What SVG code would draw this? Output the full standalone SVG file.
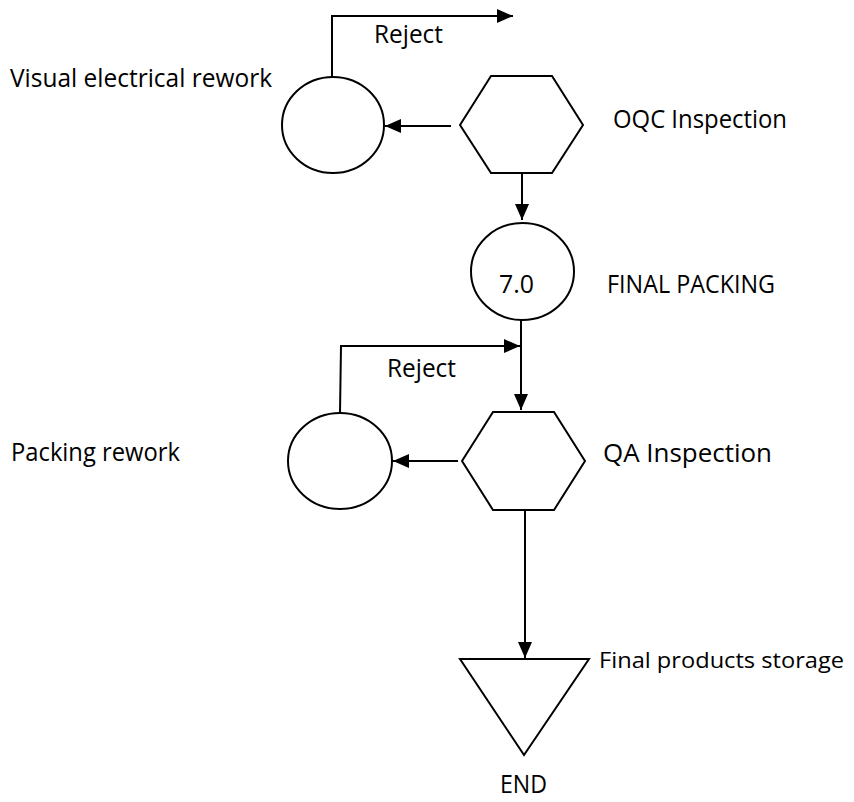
<svg xmlns="http://www.w3.org/2000/svg" width="854" height="802" viewBox="0 0 854 802">
<defs>
<marker id="ah" markerWidth="16" markerHeight="14" refX="16" refY="7" orient="auto" markerUnits="userSpaceOnUse">
<path d="M0,0 L16,7 L0,14 Z" fill="#000"/>
</marker>
<style>
.s{fill:#fff;stroke:#000;stroke-width:2}
.c{fill:none;stroke:#000;stroke-width:2}
text{font-family:"Open Sans","Liberation Sans",sans-serif;font-size:25px;fill:#000}
</style>
</defs>
<rect width="854" height="802" fill="#fff"/>
<g id="connectors">
<path class="c" d="M332,77 V16 H513" marker-end="url(#ah)"/>
<path class="c" d="M451,126 H385" marker-end="url(#ah)"/>
<path class="c" d="M522,174 V220" marker-end="url(#ah)"/>
<path class="c" d="M521,320 V410" marker-end="url(#ah)"/>
<path class="c" d="M340,413 L341,346 H520" marker-end="url(#ah)"/>
<path class="c" d="M458,461 H393" marker-end="url(#ah)"/>
<path class="c" d="M525,510 V658" marker-end="url(#ah)"/>
</g>
<g id="labels">
<text x="374" y="43" textLength="69" lengthAdjust="spacingAndGlyphs">Reject</text>
<text x="387" y="377" textLength="69" lengthAdjust="spacingAndGlyphs">Reject</text>
</g>
<g id="visual-rework">
<ellipse class="s" cx="333" cy="125" rx="51" ry="48"/>
<text x="10" y="87" textLength="262" lengthAdjust="spacingAndGlyphs">Visual electrical rework</text>
</g>
<g id="oqc">
<polygon class="s" points="460,125 491,76 552,76 583,125 552,173 491,173"/>
<text x="613" y="128" textLength="174" lengthAdjust="spacingAndGlyphs">OQC Inspection</text>
</g>
<g id="final-packing">
<ellipse class="s" cx="522.5" cy="271.5" rx="51.5" ry="48.5"/>
<text x="499" y="293" textLength="35" lengthAdjust="spacingAndGlyphs">7.0</text>
<text x="607" y="293" textLength="168" lengthAdjust="spacingAndGlyphs">FINAL PACKING</text>
</g>
<g id="packing-rework">
<ellipse class="s" cx="340" cy="461" rx="52" ry="48"/>
<text x="11" y="461" textLength="169" lengthAdjust="spacingAndGlyphs">Packing rework</text>
</g>
<g id="qa">
<polygon class="s" points="462,461 493,412 554,412 585,461 554,510 493,510"/>
<text x="603" y="462" textLength="169" lengthAdjust="spacingAndGlyphs">QA Inspection</text>
</g>
<g id="storage">
<polygon class="s" points="460,659 589,659 524,755"/>
<text x="599" y="668" style="font-size:22.5px" textLength="245" lengthAdjust="spacingAndGlyphs">Final products storage</text>
<text x="500" y="793" textLength="47" lengthAdjust="spacingAndGlyphs">END</text>
</g>
</svg>
